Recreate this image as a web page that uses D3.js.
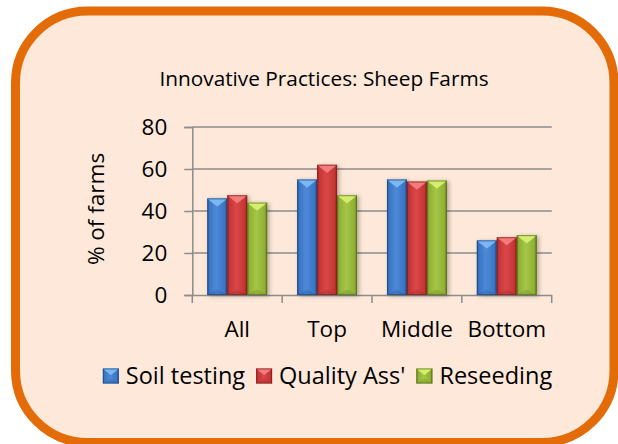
<!DOCTYPE html>
<html>
<head>
<meta charset="utf-8">
<script src="https://cdn.jsdelivr.net/npm/d3@7"></script>
<style>
  html, body { margin: 0; padding: 0; background: #fff; }
  svg { display: block; font-family: 'Open Sans', sans-serif; }
</style>
</head>
<body>
<div id="chart"></div>
<script>
const categories = ['All', 'Top', 'Middle', 'Bottom'];
const seriesNames = ['Soil testing', "Quality Ass'", 'Reseeding'];
const soilTesting = [46, 55, 55, 26];
const qualityAss = [47.5, 62, 54, 27.5];
const reseeding = [44, 47.5, 54.5, 28.5];
const yTicks = [0, 20, 40, 60, 80];

const seriesValues = [soilTesting, qualityAss, reseeding];

// bevel colours per series: edge, body, mid, top triangle
const palette = [
    { edge: '#1f4c88', body: '#3a74c4', mid: '#4c8ad8', cap: '#7cb8f2' },
    { edge: '#8a2020', body: '#c63434', mid: '#d94848', cap: '#f27c7c' },
    { edge: '#5a7419', body: '#8fb035', mid: '#a5c646', cap: '#d6ee70' }
];

const width = 618, height = 444;
const svg = d3.select('#chart').append('svg')
    .attr('width', width)
    .attr('height', height);

const defs = svg.append('defs');
palette.forEach((p, i) => {
    const g = defs.append('linearGradient')
        .attr('id', `body${i}`)
        .attr('x1', 0).attr('x2', 1).attr('y1', 0).attr('y2', 0);
    g.append('stop').attr('offset', '0%').attr('stop-color', p.edge);
    g.append('stop').attr('offset', '10%').attr('stop-color', p.body);
    g.append('stop').attr('offset', '45%').attr('stop-color', p.mid);
    g.append('stop').attr('offset', '88%').attr('stop-color', p.body);
    g.append('stop').attr('offset', '100%').attr('stop-color', p.edge);
});
const shadow = defs.append('filter').attr('id', 'shadow')
    .attr('x', '-20%').attr('y', '-10%').attr('width', '150%').attr('height', '130%');
shadow.append('feDropShadow')
    .attr('dx', 2).attr('dy', 1).attr('stdDeviation', 2)
    .attr('flood-color', '#000').attr('flood-opacity', 0.3);

// frame
svg.append('rect')
    .attr('x', 15.5).attr('y', 11)
    .attr('width', 598.5).attr('height', 431.5)
    .attr('rx', 72).attr('ry', 72)
    .attr('fill', '#fde8d9')
    .attr('stroke', '#e36c09')
    .attr('stroke-width', 9);

svg.append('text')
    .attr('x', 324).attr('y', 85.5)
    .attr('text-anchor', 'middle')
    .attr('font-size', 20.8)
    .attr('fill', '#000')
    .text('Innovative Practices: Sheep Farms');

const x0 = d3.scaleBand().domain(categories).range([192.3, 551.7]).padding(0);
const x1 = d3.scaleBand().domain(d3.range(seriesNames.length))
    .range([0, x0.bandwidth()]).paddingInner(0).paddingOuter(0.75);
const y = d3.scaleLinear().domain([0, 80]).range([295, 127]);

// gridlines
svg.append('g')
    .selectAll('line')
    .data(yTicks.filter(d => d > 0))
    .join('line')
    .attr('x1', 192.3).attr('x2', 551.7)
    .attr('y1', d => y(d)).attr('y2', d => y(d))
    .attr('stroke', '#8c8c8c').attr('stroke-width', 1.5);

// y axis
const yAxis = svg.append('g')
    .attr('transform', 'translate(192.3,0)')
    .call(d3.axisLeft(y).tickValues(yTicks).tickSize(8).tickPadding(17));
yAxis.select('.domain').attr('stroke', '#8c8c8c').attr('stroke-width', 1.5);
yAxis.selectAll('.tick line').attr('stroke', '#8c8c8c').attr('stroke-width', 1.5);
yAxis.selectAll('.tick text')
    .attr('font-size', 22.5).attr('font-family', "'Open Sans', sans-serif").attr('fill', '#000');

// x axis: labels centered, ticks on band boundaries
const xAxis = svg.append('g')
    .attr('transform', 'translate(0,295)')
    .call(d3.axisBottom(x0).tickSize(0).tickPadding(0).tickSizeOuter(0));
xAxis.select('.domain').attr('stroke', '#8c8c8c').attr('stroke-width', 1.5);
xAxis.selectAll('.tick text')
    .attr('dy', null).attr('y', 42.3)
    .attr('font-size', 22.5).attr('font-family', "'Open Sans', sans-serif").attr('fill', '#000');
const bounds = categories.map(c => x0(c)).concat([x0.range()[1]]);
xAxis.append('g')
    .selectAll('line')
    .data(bounds)
    .join('line')
    .attr('x1', d => d).attr('x2', d => d)
    .attr('y1', 0).attr('y2', 8)
    .attr('stroke', '#8c8c8c').attr('stroke-width', 1.5);

svg.append('text')
    .attr('transform', 'translate(104,209) rotate(-90)')
    .attr('text-anchor', 'middle')
    .attr('font-size', 22.5)
    .attr('fill', '#000')
    .text('% of farms');

function bevel(g, x, yTop, w, h, i) {
    const p = palette[i];
    g.append('rect')
        .attr('x', x).attr('y', yTop).attr('width', w).attr('height', h)
        .attr('fill', `url(#body${i})`)
        .attr('filter', 'url(#shadow)');
    const d = Math.min(w * 0.4, h / 2);
    g.append('path')
        .attr('d', `M${x},${yTop}L${x + w},${yTop}L${x + w / 2},${yTop + d}Z`)
        .attr('fill', p.cap);
    g.append('path')
        .attr('d', `M${x + 1.5},${yTop + 1.5}L${x + w - 1.5},${yTop + 1.5}L${x + w / 2},${yTop + d}Z`)
        .attr('fill', p.cap).attr('opacity', 0.6);
    g.append('path')
        .attr('d', `M${x},${yTop + h}L${x + w},${yTop + h}L${x + w / 2},${yTop + h - d * 0.7}Z`)
        .attr('fill', p.edge).attr('opacity', 0.25);
    g.append('rect')
        .attr('x', x + 0.5).attr('y', yTop + 0.5).attr('width', w - 1).attr('height', h - 1)
        .attr('fill', 'none').attr('stroke', p.edge).attr('stroke-width', 1).attr('opacity', 0.7);
}

const bars = svg.append('g');
categories.forEach((c, ci) => {
    seriesValues.forEach((vals, si) => {
        const bx = x0(c) + x1(si);
        bevel(bars, bx, y(vals[ci]), x1.bandwidth(), y(0) - y(vals[ci]), si);
    });
});

// legend
const legend = svg.append('g');
const items = legend.selectAll('g').data(seriesNames).join('g');
items.each(function (name, i) {
    const g = d3.select(this);
    bevel(g, 0, -15, 16, 15, i);
    g.select('rect').attr('filter', null);
    g.append('text')
        .attr('x', 23).attr('y', 0.5)
        .attr('font-size', 23.5)
        .attr('fill', '#000')
        .text(name);
});
let cursor = 0;
const offsets = [];
items.each(function () {
    offsets.push(cursor);
    const tw = d3.select(this).select('text').node().getComputedTextLength();
    cursor += 23 + tw + 11;
});
const total = cursor - 11;
const start = 327.5 - total / 2;
items.attr('transform', (d, i) => `translate(${start + offsets[i]},383.5)`);
</script>
</body>
</html>
